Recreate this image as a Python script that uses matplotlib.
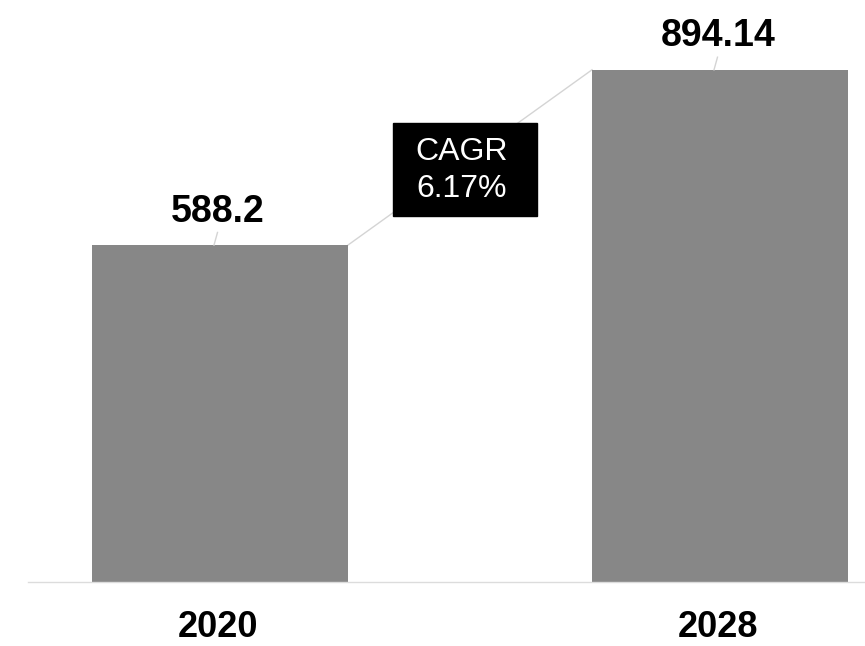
import matplotlib
matplotlib.use("Agg")
import matplotlib.pyplot as plt
from matplotlib.patches import Rectangle

plt.rcParams['font.family'] = ['Liberation Sans', 'DejaVu Sans']

# Data
years = ['2020', '2028']
values = [588.2, 894.14]
cagr_label = 'CAGR\n6.17%'

bar_color = '#878787'
line_color = '#d4d4d4'

fig = plt.figure(figsize=(8.65, 6.46), dpi=100)
ax = fig.add_axes([28 / 865, 64 / 646, 837 / 865, 582 / 646])

x = list(range(len(years)))
width = 0.512
ax.bar(x, values, width=width, color=bar_color, zorder=2)

ax.set_xlim(-0.384, 1.29)
ax.set_ylim(0, 1016)

# connector between bar tops
ax.plot([x[0] + width / 2, x[1] - width / 2], [values[0], values[1]],
        color=line_color, lw=1, zorder=1)

# value labels with short leader lines
for xi, v in zip(x, values):
    ax.text(xi - 0.004, v + 41, f'{v:g}', ha='center', va='baseline',
            fontsize=27, fontweight='bold')
    ax.plot([xi - 0.005, xi - 0.012], [v + 22, v], color=line_color, lw=1)

# year labels
for xi, yr in zip(x, years):
    ax.text(xi - 0.005, -96, yr, ha='center', va='baseline', fontsize=26,
            fontweight='bold', clip_on=False)

# CAGR box
bx, by = 0.49, 720
bw, bh = 0.288, 162
ax.add_patch(Rectangle((bx - bw / 2, by - bh / 2), bw, bh, color='black', zorder=3))
ax.text(bx - 0.006, by - 2, cagr_label, ha='center', va='center', color='white',
        fontsize=23, linespacing=1.3, zorder=4)

for s in ['top', 'right', 'left']:
    ax.spines[s].set_visible(False)
ax.spines['bottom'].set_color('#dcdcdc')
ax.spines['bottom'].set_linewidth(1)
ax.set_xticks([])
ax.set_yticks([])

fig.savefig('out.png', dpi=100)
